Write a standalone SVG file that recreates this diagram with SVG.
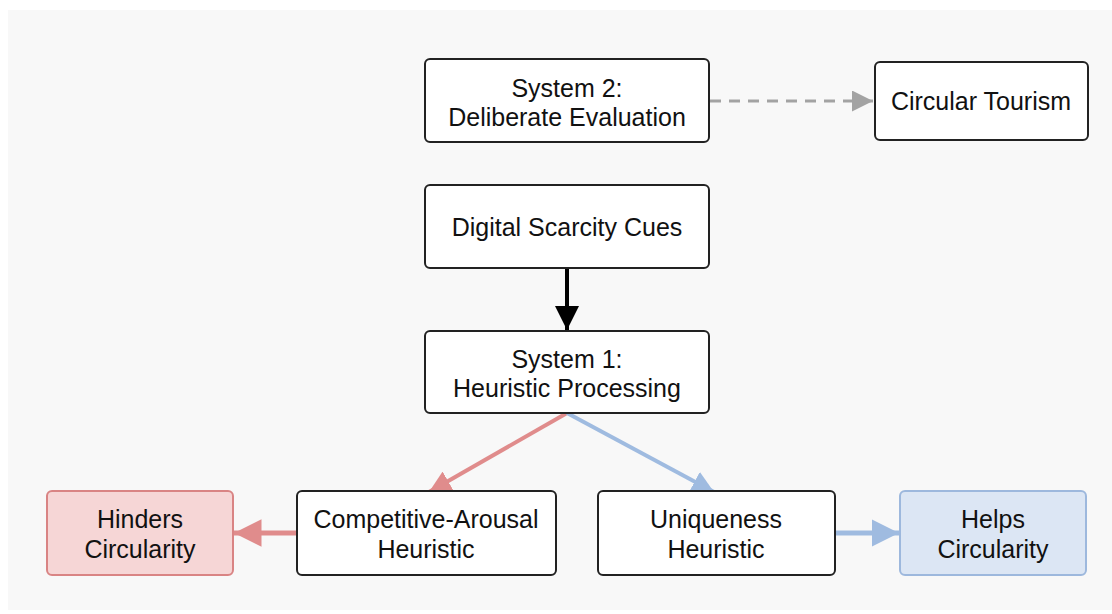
<svg xmlns="http://www.w3.org/2000/svg" width="1112" height="614" viewBox="0 0 1112 614">
<defs>
<style>
.box{fill:#ffffff;stroke:#222222;stroke-width:2}
.red{fill:#f6d6d6;stroke:#d98484;stroke-width:2}
.blue{fill:#dce6f4;stroke:#9db8dd;stroke-width:2}
text{font-family:"Liberation Sans",Arial,Helvetica,sans-serif;font-size:25px;fill:#111111;text-anchor:middle}
</style>
<marker id="ahBlack" viewBox="0 0 10 10" refX="10" refY="5" markerWidth="6" markerHeight="6" markerUnits="strokeWidth" orient="auto"><path d="M0,0 L10,5 L0,10 z" fill="#000000"/></marker>
<marker id="ahGray" viewBox="0 0 10 10" refX="10" refY="5" markerWidth="7" markerHeight="7" markerUnits="strokeWidth" orient="auto"><path d="M0,0 L10,5 L0,10 z" fill="#a3a3a3"/></marker>
<marker id="ahRed" viewBox="0 0 10 10" refX="10" refY="5" markerWidth="5.5" markerHeight="5.5" markerUnits="strokeWidth" orient="auto"><path d="M0,0 L10,5 L0,10 z" fill="#e08c8c"/></marker>
<marker id="ahBlue" viewBox="0 0 10 10" refX="10" refY="5" markerWidth="5.5" markerHeight="5.5" markerUnits="strokeWidth" orient="auto"><path d="M0,0 L10,5 L0,10 z" fill="#9fbbe0"/></marker>
</defs>
<rect x="0" y="0" width="1112" height="614" fill="#ffffff"/>
<rect x="8" y="10" width="1104" height="600" fill="#f8f8f8"/>
<g id="connectors">
<line x1="710" y1="101" x2="873" y2="101" stroke="#a3a3a3" stroke-width="3" stroke-dasharray="11,8" marker-end="url(#ahGray)"/>
<line x1="567" y1="268" x2="567" y2="330" stroke="#000000" stroke-width="4" marker-end="url(#ahBlack)"/>
<line x1="567" y1="413" x2="429" y2="492" stroke="#e08c8c" stroke-width="4" marker-end="url(#ahRed)"/>
<line x1="567" y1="413" x2="714" y2="492" stroke="#9fbbe0" stroke-width="4" marker-end="url(#ahBlue)"/>
<line x1="297" y1="533" x2="234" y2="533" stroke="#e08c8c" stroke-width="5" marker-end="url(#ahRed)"/>
<line x1="835" y1="533" x2="899" y2="533" stroke="#9fbbe0" stroke-width="5" marker-end="url(#ahBlue)"/>
</g>
<g id="system2">
<rect class="box" x="425" y="59" width="284" height="83" rx="5"/>
<text x="567" y="97">System 2:</text>
<text x="567" y="126">Deliberate Evaluation</text>
</g>
<g id="circular-tourism">
<rect class="box" x="875" y="62" width="213" height="78" rx="5"/>
<text x="981" y="110">Circular Tourism</text>
</g>
<g id="digital-scarcity">
<rect class="box" x="425" y="185" width="284" height="83" rx="5"/>
<text x="567" y="236">Digital Scarcity Cues</text>
</g>
<g id="system1">
<rect class="box" x="425" y="331" width="284" height="82" rx="5"/>
<text x="567" y="368">System 1:</text>
<text x="567" y="397">Heuristic Processing</text>
</g>
<g id="hinders">
<rect class="red" x="47" y="491" width="186" height="84" rx="5"/>
<text x="140" y="528">Hinders</text>
<text x="140" y="558">Circularity</text>
</g>
<g id="competitive">
<rect class="box" x="297" y="491" width="259" height="84" rx="5"/>
<text x="426" y="528">Competitive-Arousal</text>
<text x="426" y="558">Heuristic</text>
</g>
<g id="uniqueness">
<rect class="box" x="598" y="491" width="237" height="84" rx="5"/>
<text x="716" y="528">Uniqueness</text>
<text x="716" y="558">Heuristic</text>
</g>
<g id="helps">
<rect class="blue" x="900" y="491" width="186" height="84" rx="5"/>
<text x="993" y="528">Helps</text>
<text x="993" y="558">Circularity</text>
</g>
</svg>
